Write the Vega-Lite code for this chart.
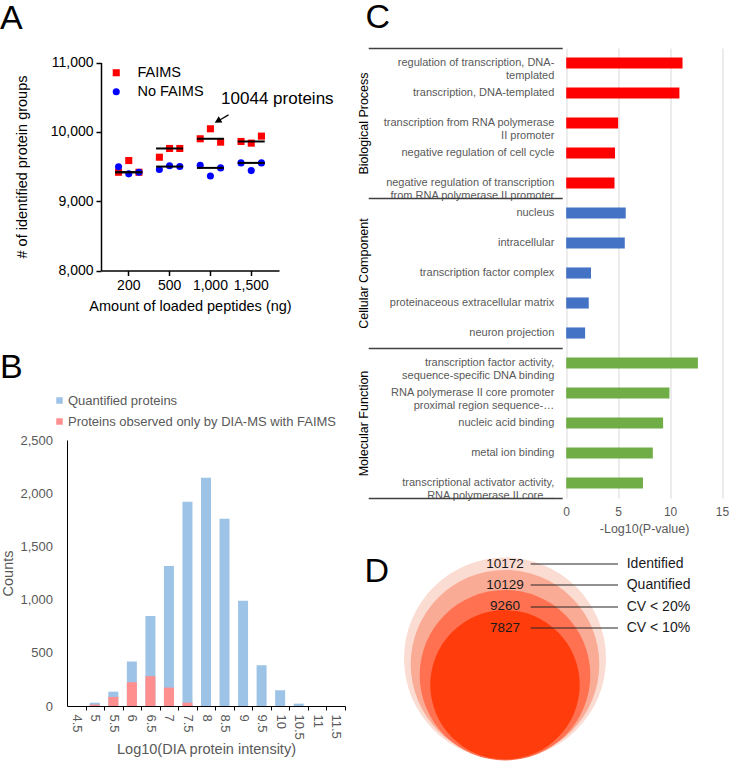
{
  "$schema": "https://vega.github.io/schema/vega-lite/v6.json",
  "background": "white",
  "padding": {"top": 1, "left": 0, "right": 0, "bottom": 0},
  "config": {
    "view": {"stroke": null},
    "font": "Liberation Sans",
    "axis": {"grid": false, "labelFont": "Liberation Sans", "titleFont": "Liberation Sans", "titleFontWeight": "normal"},
    "legend": {"labelFont": "Liberation Sans", "titleFont": "Liberation Sans"},
    "title": {"font": "Liberation Sans", "fontSize": 34, "fontWeight": "normal", "color": "black", "anchor": "start", "frame": "group", "baseline": "alphabetic"}
  },
  "spacing": 10.5,
  "resolve": {"scale": {"color": "independent", "shape": "independent", "size": "independent"}, "legend": {"color": "independent", "shape": "independent", "size": "independent"}},
  "hconcat": [
    {
      "spacing": 37,
      "resolve": {"scale": {"color": "independent", "shape": "independent", "size": "independent"}, "legend": {"color": "independent", "shape": "independent", "size": "independent"}},
      "vconcat": [
        {
          "width": 212,
          "height": 222.5,
          "title": {"text": "A", "dx": -67, "offset": 12},
          "data": {"values": [
            {"ng": "200", "group": "FAIMS", "rep": 1, "count": 9417},
            {"ng": "200", "group": "FAIMS", "rep": 2, "count": 9586},
            {"ng": "200", "group": "FAIMS", "rep": 3, "count": 9417},
            {"ng": "500", "group": "FAIMS", "rep": 1, "count": 9634},
            {"ng": "500", "group": "FAIMS", "rep": 2, "count": 9760},
            {"ng": "500", "group": "FAIMS", "rep": 3, "count": 9760},
            {"ng": "1,000", "group": "FAIMS", "rep": 1, "count": 9900},
            {"ng": "1,000", "group": "FAIMS", "rep": 2, "count": 10044},
            {"ng": "1,000", "group": "FAIMS", "rep": 3, "count": 9851},
            {"ng": "1,500", "group": "FAIMS", "rep": 1, "count": 9861},
            {"ng": "1,500", "group": "FAIMS", "rep": 2, "count": 9837},
            {"ng": "1,500", "group": "FAIMS", "rep": 3, "count": 9938},
            {"ng": "200", "group": "No FAIMS", "rep": 1, "count": 9495},
            {"ng": "200", "group": "No FAIMS", "rep": 2, "count": 9394},
            {"ng": "200", "group": "No FAIMS", "rep": 3, "count": 9417},
            {"ng": "500", "group": "No FAIMS", "rep": 1, "count": 9456},
            {"ng": "500", "group": "No FAIMS", "rep": 2, "count": 9510},
            {"ng": "500", "group": "No FAIMS", "rep": 3, "count": 9499},
            {"ng": "1,000", "group": "No FAIMS", "rep": 1, "count": 9518},
            {"ng": "1,000", "group": "No FAIMS", "rep": 2, "count": 9364},
            {"ng": "1,000", "group": "No FAIMS", "rep": 3, "count": 9480},
            {"ng": "1,500", "group": "No FAIMS", "rep": 1, "count": 9552},
            {"ng": "1,500", "group": "No FAIMS", "rep": 2, "count": 9441},
            {"ng": "1,500", "group": "No FAIMS", "rep": 3, "count": 9552}
          ]},
          "layer": [
            {
              "mark": {"type": "point", "filled": true, "size": 50, "opacity": 1},
              "encoding": {
                "x": {
                  "field": "ng", "type": "ordinal", "sort": ["200", "500", "1,000", "1,500"],
                  "scale": {"range": [34, 212], "paddingInner": 0, "paddingOuter": 0.18},
                  "axis": {"title": "Amount of loaded peptides (ng)", "titleFontSize": 14.5, "titleColor": "black", "titlePadding": 7,
                    "labelAngle": 0, "labelFontSize": 14, "labelColor": "black", "labelPadding": 3,
                    "domainColor": "black", "domainWidth": 1.5, "tickColor": "black", "tickWidth": 1.5, "tickSize": 5}
                },
                "xOffset": {"field": "rep", "type": "ordinal", "scale": {"paddingInner": 0, "paddingOuter": 1.05}},
                "y": {
                  "field": "count", "type": "quantitative",
                  "scale": {"domain": [8000, 11000], "range": [222.5, 14.5], "nice": false, "zero": false},
                  "axis": {"offset": -34, "values": [8000, 9000, 10000, 11000], "format": ",.0f",
                    "title": "# of identified protein groups", "titleFontSize": 14.5, "titleColor": "black", "titlePadding": 21,
                    "labelFontSize": 14, "labelColor": "black", "labelPadding": 3,
                    "domainColor": "black", "domainWidth": 1.5, "tickColor": "black", "tickWidth": 1.5, "tickSize": 5}
                },
                "color": {
                  "field": "group", "type": "nominal",
                  "scale": {"domain": ["FAIMS", "No FAIMS"], "range": ["#FF0000", "#0000FF"]},
                  "legend": {"title": null, "orient": "none", "legendX": 42, "legendY": 17.5, "labelFontSize": 14.5, "labelColor": "black", "symbolSize": 50, "labelOffset": 14, "rowPadding": 4, "symbolStrokeWidth": 0}
                },
                "shape": {
                  "field": "group", "type": "nominal",
                  "scale": {"domain": ["FAIMS", "No FAIMS"], "range": ["square", "circle"]},
                  "legend": {"title": null, "orient": "none", "legendX": 42, "legendY": 17.5, "labelFontSize": 14.5, "labelColor": "black", "symbolSize": 50, "labelOffset": 14, "rowPadding": 4, "symbolStrokeWidth": 0}
                }
              }
            },
            {
              "mark": {"type": "tick", "color": "black", "thickness": 2, "size": 27, "opacity": 1},
              "encoding": {
                "x": {"field": "ng", "type": "ordinal", "sort": ["200", "500", "1,000", "1,500"]},
                "y": {"aggregate": "median", "field": "count", "type": "quantitative"},
                "detail": {"field": "group", "type": "nominal"}
              }
            },
            {
              "data": {"values": [{"note": "10044 proteins"}]},
              "mark": {"type": "text", "align": "left", "baseline": "middle", "fontSize": 17, "dx": 10.7, "color": "black"},
              "encoding": {
                "x": {"datum": "1,000"},
                "y": {"datum": 10469},
                "text": {"field": "note", "type": "nominal"}
              }
            },
            {
              "data": {"values": [{"note": "10044 proteins"}]},
              "mark": {"type": "point", "shape": "M0,-1L0.45,-0.15L0.08,-0.15L0.08,1L-0.08,1L-0.08,-0.15L-0.45,-0.15Z", "filled": true, "color": "black", "opacity": 1, "size": 256, "angle": 240, "xOffset": 11.2},
              "encoding": {
                "x": {"datum": "1,000"},
                "y": {"datum": 10187}
              }
            }
          ]
        },
        {
          "width": 278,
          "height": 266,
          "title": {"text": "B", "dx": -67, "offset": 9.5},
          "data": {"values": [
            {"intensity": 4.5, "series": "Quantified proteins", "count": 0},
            {"intensity": 5, "series": "Quantified proteins", "count": 31},
            {"intensity": 5.5, "series": "Quantified proteins", "count": 135},
            {"intensity": 6, "series": "Quantified proteins", "count": 418},
            {"intensity": 6.5, "series": "Quantified proteins", "count": 845},
            {"intensity": 7, "series": "Quantified proteins", "count": 1316},
            {"intensity": 7.5, "series": "Quantified proteins", "count": 1919},
            {"intensity": 8, "series": "Quantified proteins", "count": 2145},
            {"intensity": 8.5, "series": "Quantified proteins", "count": 1759},
            {"intensity": 9, "series": "Quantified proteins", "count": 989},
            {"intensity": 9.5, "series": "Quantified proteins", "count": 383},
            {"intensity": 10, "series": "Quantified proteins", "count": 148},
            {"intensity": 10.5, "series": "Quantified proteins", "count": 22},
            {"intensity": 11, "series": "Quantified proteins", "count": 0},
            {"intensity": 11.5, "series": "Quantified proteins", "count": 0},
            {"intensity": 4.5, "series": "Proteins observed only by DIA-MS with FAIMS", "count": 0},
            {"intensity": 5, "series": "Proteins observed only by DIA-MS with FAIMS", "count": 13},
            {"intensity": 5.5, "series": "Proteins observed only by DIA-MS with FAIMS", "count": 85},
            {"intensity": 6, "series": "Proteins observed only by DIA-MS with FAIMS", "count": 223},
            {"intensity": 6.5, "series": "Proteins observed only by DIA-MS with FAIMS", "count": 280},
            {"intensity": 7, "series": "Proteins observed only by DIA-MS with FAIMS", "count": 173},
            {"intensity": 7.5, "series": "Proteins observed only by DIA-MS with FAIMS", "count": 31},
            {"intensity": 8, "series": "Proteins observed only by DIA-MS with FAIMS", "count": 0},
            {"intensity": 8.5, "series": "Proteins observed only by DIA-MS with FAIMS", "count": 0},
            {"intensity": 9, "series": "Proteins observed only by DIA-MS with FAIMS", "count": 0},
            {"intensity": 9.5, "series": "Proteins observed only by DIA-MS with FAIMS", "count": 0},
            {"intensity": 10, "series": "Proteins observed only by DIA-MS with FAIMS", "count": 0},
            {"intensity": 10.5, "series": "Proteins observed only by DIA-MS with FAIMS", "count": 0},
            {"intensity": 11, "series": "Proteins observed only by DIA-MS with FAIMS", "count": 0},
            {"intensity": 11.5, "series": "Proteins observed only by DIA-MS with FAIMS", "count": 0}
          ]},
          "mark": {"type": "bar", "size": 10},
          "encoding": {
            "x": {
              "field": "intensity", "type": "quantitative",
              "scale": {"domain": [4.25, 11.75], "nice": false, "zero": false, "padding": 0},
              "axis": {"values": [4.5, 5, 5.5, 6, 6.5, 7, 7.5, 8, 8.5, 9, 9.5, 10, 10.5, 11, 11.5], "labelFlush": false,
                "labelExpr": "toString(datum.value)",
                "title": "Log10(DIA protein intensity)", "titleFontSize": 14.5, "titleColor": "#595959", "titlePadding": 3,
                "labelAngle": 90, "labelAlign": "left", "labelBaseline": "middle", "labelFontSize": 13, "labelColor": "#595959", "labelPadding": 4,
                "domainColor": "black", "domainWidth": 1, "ticks": true, "tickOffset": 9.27, "labelOffset": -9.27, "tickSize": 4, "tickColor": "black"}
            },
            "y": {
              "field": "count", "type": "quantitative", "stack": null,
              "scale": {"domain": [0, 2500], "nice": false},
              "axis": {"values": [0, 500, 1000, 1500, 2000, 2500], "format": ",.0f",
                "title": "Counts", "titleFontSize": 14.5, "titleColor": "#595959", "titlePadding": 4,
                "labelFontSize": 13, "labelColor": "#595959", "labelPadding": 14.5,
                "domainColor": "black", "domainWidth": 1, "ticks": false}
            },
            "color": {
              "field": "series", "type": "nominal",
              "scale": {"domain": ["Quantified proteins", "Proteins observed only by DIA-MS with FAIMS"], "range": ["#9DC3E6", "#FF8F8F"]},
              "legend": {"title": null, "orient": "none", "legendX": -14, "legendY": -46, "symbolType": "square", "symbolSize": 42, "labelFontSize": 13, "labelColor": "#595959", "labelOffset": 2, "rowPadding": 7, "symbolStrokeWidth": 0, "labelLimit": 400}
            }
          }
        }
      ]
    },
    {
      "spacing": 19.5,
      "resolve": {"scale": {"color": "independent", "shape": "independent", "size": "independent"}, "legend": {"color": "independent", "shape": "independent", "size": "independent"}},
      "vconcat": [
        {
          "width": 318.5,
          "height": 450,
          "title": {"text": "C", "dx": -38, "offset": 12},
          "data": {"values": [
            {"term": "regulation of transcription, DNA-\ntemplated", "group": "Biological Process", "value": 11.2},
            {"term": "transcription, DNA-templated", "group": "Biological Process", "value": 10.9},
            {"term": "transcription from RNA polymerase\nII promoter", "group": "Biological Process", "value": 5.0},
            {"term": "negative regulation of cell cycle", "group": "Biological Process", "value": 4.7},
            {"term": "negative regulation of transcription\nfrom RNA polymerase II promoter", "group": "Biological Process", "value": 4.65},
            {"term": "nucleus", "group": "Cellular Component", "value": 5.73},
            {"term": "intracellular", "group": "Cellular Component", "value": 5.64},
            {"term": "transcription factor complex", "group": "Cellular Component", "value": 2.39},
            {"term": "proteinaceous extracellular matrix", "group": "Cellular Component", "value": 2.17},
            {"term": "neuron projection", "group": "Cellular Component", "value": 1.82},
            {"term": "transcription factor activity,\nsequence-specific DNA binding", "group": "Molecular Function", "value": 12.68},
            {"term": "RNA polymerase II core promoter\nproximal region sequence-…", "group": "Molecular Function", "value": 9.94},
            {"term": "nucleic acid binding", "group": "Molecular Function", "value": 9.33},
            {"term": "metal ion binding", "group": "Molecular Function", "value": 8.34},
            {"term": "transcriptional activator activity,\nRNA polymerase II core…", "group": "Molecular Function", "value": 7.39}
          ]},
          "layer": [
            {
              "mark": {"type": "bar"},
              "encoding": {
                "y": {
                  "field": "term", "type": "nominal", "sort": null,
                  "scale": {"paddingInner": 0.63, "paddingOuter": 0.315},
                  "axis": {"orient": "left", "offset": -162.7, "title": null, "domain": false, "ticks": false,
                    "labelPadding": 12.4, "labelFontSize": 11, "labelColor": "#595959", "labelLimit": 300, "labelLineHeight": 12.5,
                    "labelExpr": "split(datum.label, '\\n')"}
                },
                "x": {
                  "field": "value", "type": "quantitative",
                  "scale": {"domain": [0, 15], "range": [162.7, 318.5], "nice": false, "padding": 0, "zero": false},
                  "axis": {"values": [0, 5, 10, 15], "grid": true, "gridColor": "#D9D9D9", "gridWidth": 1, "domain": false, "ticks": false,
                    "labelFlush": false, "labelPadding": 8, "labelFontSize": 12, "labelColor": "#595959",
                    "title": "-Log10(P-value)", "titleFontSize": 12.5, "titleColor": "#595959", "titlePadding": 5}
                },
                "color": {
                  "field": "group", "type": "nominal",
                  "scale": {"domain": ["Biological Process", "Cellular Component", "Molecular Function"], "range": ["#FF0000", "#4472C4", "#70AD47"]},
                  "legend": null
                }
              }
            },
            {
              "mark": {"type": "rect", "opacity": 0},
              "encoding": {
                "y": {
                  "field": "group", "type": "nominal", "sort": null,
                  "scale": {"type": "band", "paddingInner": 0, "paddingOuter": 0},
                  "axis": {"orient": "left", "offset": -158.7, "title": null, "domain": false,
                    "ticks": true, "tickBand": "extent", "tickSize": 194, "tickColor": "#404040", "tickWidth": 1.3,
                    "labelAngle": 270, "labelAlign": "center", "labelBaseline": "alphabetic", "labelPadding": 1,
                    "labelFontSize": 12.5, "labelColor": "#000000"}
                }
              }
            }
          ],
          "resolve": {"scale": {"y": "independent"}, "axis": {"y": "independent"}}
        },
        {
          "width": 203,
          "height": 203,
          "title": {"text": "D", "dx": -39, "offset": -32.2},
          "data": {"values": [
            {"status": "Identified", "count": 10172},
            {"status": "Quantified", "count": 10129},
            {"status": "CV < 20%", "count": 9260},
            {"status": "CV < 10%", "count": 7827}
          ]},
          "layer": [
            {
              "mark": {"type": "point", "filled": true, "opacity": 1, "strokeWidth": 0},
              "encoding": {
                "y": {"field": "count", "type": "quantitative",
                  "scale": {"domain": [7827, 9260, 10129, 10172], "range": [128.3, 118.7, 107.7, 102], "nice": false, "zero": false},
                  "axis": null},
                "size": {"field": "count", "type": "quantitative",
                  "scale": {"domain": [7827, 9260, 10129, 10172], "range": [22320, 29104, 35570, 40804], "nice": false, "zero": false},
                  "legend": null},
                "color": {"field": "status", "type": "nominal",
                  "scale": {"domain": ["Identified", "Quantified", "CV < 20%", "CV < 10%"], "range": ["#FBDCD2", "#FAAB95", "#FF7150", "#FF3C0C"]},
                  "legend": null}
              }
            },
            {
              "mark": {"type": "text", "fontSize": 13.5, "color": "#1A1A1A", "baseline": "middle", "align": "center"},
              "encoding": {
                "y": {"field": "status", "type": "nominal", "sort": null,
                  "scale": {"type": "point", "range": [7, 71], "padding": 0},
                  "axis": {"orient": "right", "offset": -76.3, "title": null, "domain": false, "zindex": 1,
                    "ticks": true, "tickSize": 87.3, "tickColor": "#262626", "tickWidth": 1.2,
                    "labelPadding": 8.7, "labelFontSize": 14, "labelColor": "#1A1A1A", "labelAlign": "left", "labelBaseline": "middle"}},
                "text": {"field": "count", "type": "quantitative", "format": "d"}
              }
            }
          ],
          "resolve": {"scale": {"y": "independent", "size": "independent"}, "axis": {"y": "independent"}}
        }
      ]
    }
  ]
}
